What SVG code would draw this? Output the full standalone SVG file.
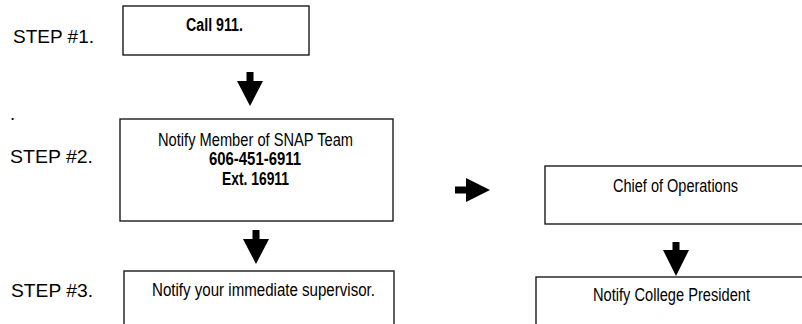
<svg xmlns="http://www.w3.org/2000/svg" width="802" height="324" viewBox="0 0 802 324">
<style>
.box{fill:#fff;stroke:#1a1a1a;stroke-width:1.4}
.lbl{font-family:"Liberation Sans",Arial,sans-serif;font-size:18.5px;fill:#000}
.t{font-family:"Liberation Sans Narrow","Liberation Sans",Arial,sans-serif;font-size:17.5px;fill:#000;text-anchor:middle}
.b{font-weight:bold}
.arr{fill:#000;stroke:none}
</style>
<rect width="802" height="324" fill="#fff"/>
<text class="lbl" x="13" y="43" textLength="81" lengthAdjust="spacingAndGlyphs">STEP #1.</text>
<text class="lbl" x="10" y="120">.</text>
<text class="lbl" x="10" y="163" textLength="83" lengthAdjust="spacingAndGlyphs">STEP #2.</text>
<text class="lbl" x="11" y="297" textLength="82" lengthAdjust="spacingAndGlyphs">STEP #3.</text>
<g id="call911">
<rect class="box" x="123" y="6" width="186" height="49"/>
<text class="t b" x="214.5" y="31" textLength="57" lengthAdjust="spacingAndGlyphs">Call 911.</text>
</g>
<g id="snap">
<rect class="box" x="120" y="119" width="273" height="102"/>
<text class="t" x="255.5" y="146" textLength="195" lengthAdjust="spacingAndGlyphs">Notify Member of SNAP Team</text>
<text class="t b" x="255" y="164.5" textLength="92" lengthAdjust="spacingAndGlyphs">606-451-6911</text>
<text class="t b" x="255.5" y="185" textLength="67" lengthAdjust="spacingAndGlyphs">Ext. 16911</text>
</g>
<g id="supervisor">
<rect class="box" x="124" y="271" width="270" height="70"/>
<text class="t" x="263.5" y="296" textLength="223" lengthAdjust="spacingAndGlyphs">Notify your immediate supervisor.</text>
</g>
<g id="chief">
<rect class="box" x="545" y="166" width="280" height="58"/>
<text class="t" x="675.5" y="192" textLength="125" lengthAdjust="spacingAndGlyphs">Chief of Operations</text>
</g>
<g id="president">
<rect class="box" x="536" y="277" width="290" height="70"/>
<text class="t" x="671.5" y="301" textLength="157" lengthAdjust="spacingAndGlyphs">Notify College President</text>
</g>
<g id="connectors">
<polygon class="arr" points="246.5,72 253.5,72 253.5,81 263,81 250,106 237,81 246.5,81"/>
<polygon class="arr" points="252.5,230 259.5,230 259.5,239 269,239 256,264 243,239 252.5,239"/>
<polygon class="arr" points="455,186.5 466,186.5 466,178 490,190 466,202 466,193.5 455,193.5"/>
<polygon class="arr" points="672.5,242 679.5,242 679.5,250 689,250 676,276 663,250 672.5,250"/>
</g>
</svg>
